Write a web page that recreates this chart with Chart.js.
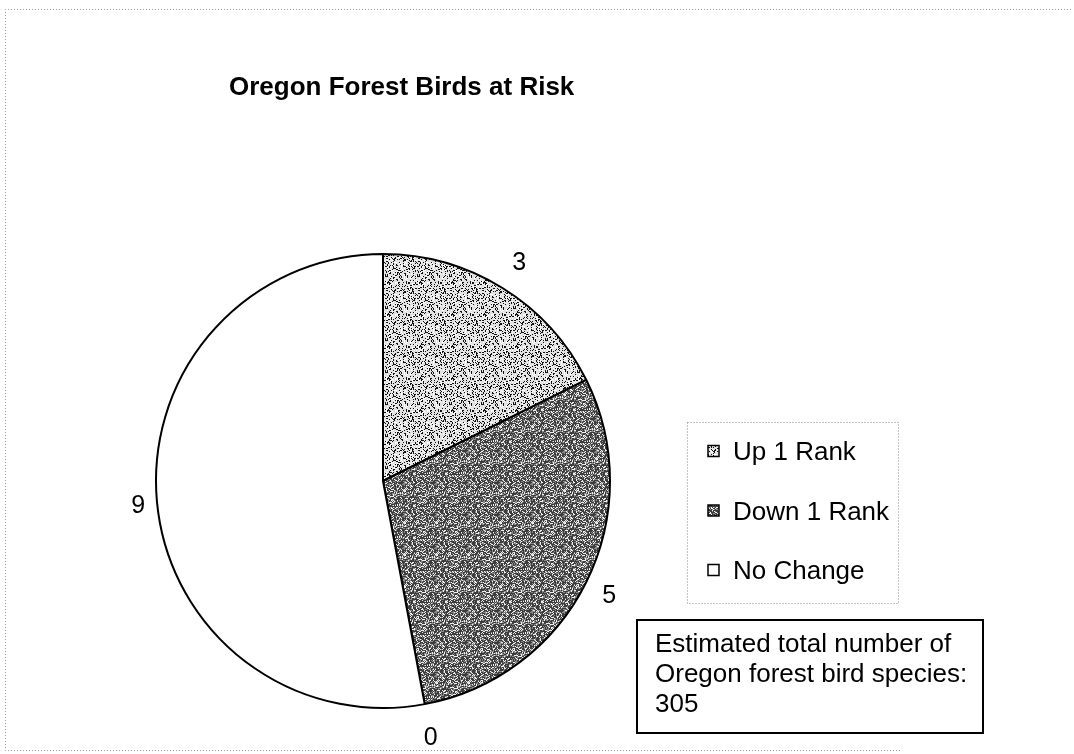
<!DOCTYPE html>
<html>
<head>
<meta charset="utf-8">
<script src="https://cdn.jsdelivr.net/npm/chart.js@4.4.1/dist/chart.umd.min.js"></script>
<style>
  html, body { margin: 0; padding: 0; background: #fff; }
  #c { display: block; }
</style>
</head>
<body>
<canvas id="c" width="1074" height="754"></canvas>
<script>
// ---- data ----
const titleText = 'Oregon Forest Birds at Risk';
const categories = ['Up 1 Rank', 'Down 1 Rank', '', 'No Change'];
const speciesCounts = [3, 5, 0, 9];
const noteLines = ['Estimated total number of', 'Oregon forest bird species:', '305'];

const FONT = '"Liberation Sans", Arial, Helvetica, sans-serif';

// deterministic speckle texture (no random numbers)
function hash(x, y, s) {
  let h = (x * 374761393 + y * 668265263 + s * 982451653) | 0;
  h = (h ^ (h >>> 13)) * 1274126177 | 0;
  h = h ^ (h >>> 16);
  return ((h >>> 0) % 1000) / 1000;
}
function makePattern(base, dotColor, density, altColor, altDensity, seed) {
  const size = 32;
  const c = document.createElement('canvas');
  c.width = size; c.height = size;
  const g = c.getContext('2d');
  g.fillStyle = base;
  g.fillRect(0, 0, size, size);
  for (let y = 0; y < size; y++) {
    for (let x = 0; x < size; x++) {
      const v = hash(x, y, seed);
      if (v < density) { g.fillStyle = dotColor; g.fillRect(x, y, 1, 1); }
      else if (v < density + altDensity) { g.fillStyle = altColor; g.fillRect(x, y, 1, 1); }
    }
  }
  return g.createPattern(c, 'repeat');
}

const ctx0 = document.getElementById('c').getContext('2d');
const lightPat = makePattern('#e2e2e2', '#111111', 0.22, '#ffffff', 0.18, 7);
const darkPat = makePattern('#3c3c3c', '#f0f0f0', 0.22, '#8a8a8a', 0.25, 13);
const fills = [lightPat, darkPat, '#ffffff', '#ffffff'];

const decorPlugin = {
  id: 'decor',
  beforeDraw(chart) {
    const ctx = chart.ctx;
    ctx.save();
    ctx.fillStyle = '#ffffff';
    ctx.fillRect(0, 0, chart.width, chart.height);
    // outer dotted frame
    ctx.strokeStyle = '#9a9a9a';
    ctx.lineWidth = 1;
    ctx.setLineDash([1, 2]);
    ctx.beginPath();
    ctx.moveTo(1071, 9.5); ctx.lineTo(5.5, 9.5); ctx.lineTo(5.5, 750.5); ctx.lineTo(900, 750.5);
    ctx.stroke();
    ctx.restore();
  },
  afterDraw(chart) {
    const ctx = chart.ctx;
    ctx.save();
    // title
    ctx.fillStyle = '#000';
    ctx.font = 'bold 26px ' + FONT;
    ctx.textAlign = 'left';
    ctx.textBaseline = 'alphabetic';
    ctx.fillText(titleText, 229, 95);

    // data labels outside the slices
    const meta = chart.getDatasetMeta(0);
    const ds = chart.data.datasets[0];
    ctx.font = '25px ' + FONT;
    ctx.textAlign = 'center';
    meta.data.forEach((arc, i) => {
      const p = arc.getProps(['x', 'y', 'startAngle', 'endAngle', 'outerRadius'], true);
      const mid = (p.startAngle + p.endAngle) / 2;
      const cs = Math.cos(mid), sn = Math.sin(mid);
      const ext = Math.abs(cs) * 7 + Math.abs(sn) * 9;
      const gap = 10 + 12 * Math.abs(sn);
      const d = p.outerRadius + gap + ext;
      const lx = p.x + d * cs;
      const ly = p.y + d * sn;
      ctx.fillText(String(ds.data[i]), lx, ly + 9);
    });

    // legend
    const lgX = 687, lgY = 422, lgW = 211, lgH = 181;
    ctx.strokeStyle = '#8a8a8a';
    ctx.lineWidth = 1;
    ctx.setLineDash([1, 2]);
    ctx.strokeRect(lgX + 0.5, lgY + 0.5, lgW, lgH);
    ctx.setLineDash([]);
    ctx.font = '26px ' + FONT;
    ctx.textAlign = 'left';
    let row = 0;
    chart.data.labels.forEach((lab, i) => {
      if (!lab) return;
      const cy = lgY + 29 + row * 59.5;
      ctx.fillStyle = ds.backgroundColor[i];
      ctx.fillRect(708, cy - 5.5, 11, 11);
      ctx.strokeStyle = '#000';
      ctx.lineWidth = 1.5;
      ctx.strokeRect(708, cy - 5.5, 11, 11);
      ctx.fillStyle = '#000';
      ctx.fillText(lab, 733, cy + 9.3);
      row++;
    });

    // note box
    ctx.strokeStyle = '#000';
    ctx.lineWidth = 2;
    ctx.strokeRect(637, 620, 346, 113);
    ctx.fillStyle = '#000';
    ctx.font = '26px ' + FONT;
    noteLines.forEach((t, k) => ctx.fillText(t, 655, 652 + k * 30));
    ctx.restore();
  }
};

new Chart(ctx0, {
  type: 'pie',
  data: {
    labels: categories,
    datasets: [{
      data: speciesCounts,
      backgroundColor: fills,
      borderColor: '#000000',
      borderWidth: 2,
      hoverOffset: 0,
      offset: 0
    }]
  },
  options: {
    responsive: false,
    animation: false,
    devicePixelRatio: 1,
    layout: { padding: { left: 155, top: 253, right: 463, bottom: 45 } },
    plugins: {
      legend: { display: false },
      title: { display: false },
      tooltip: { enabled: false }
    },
    events: []
  },
  plugins: [decorPlugin]
});
</script>
</body>
</html>
